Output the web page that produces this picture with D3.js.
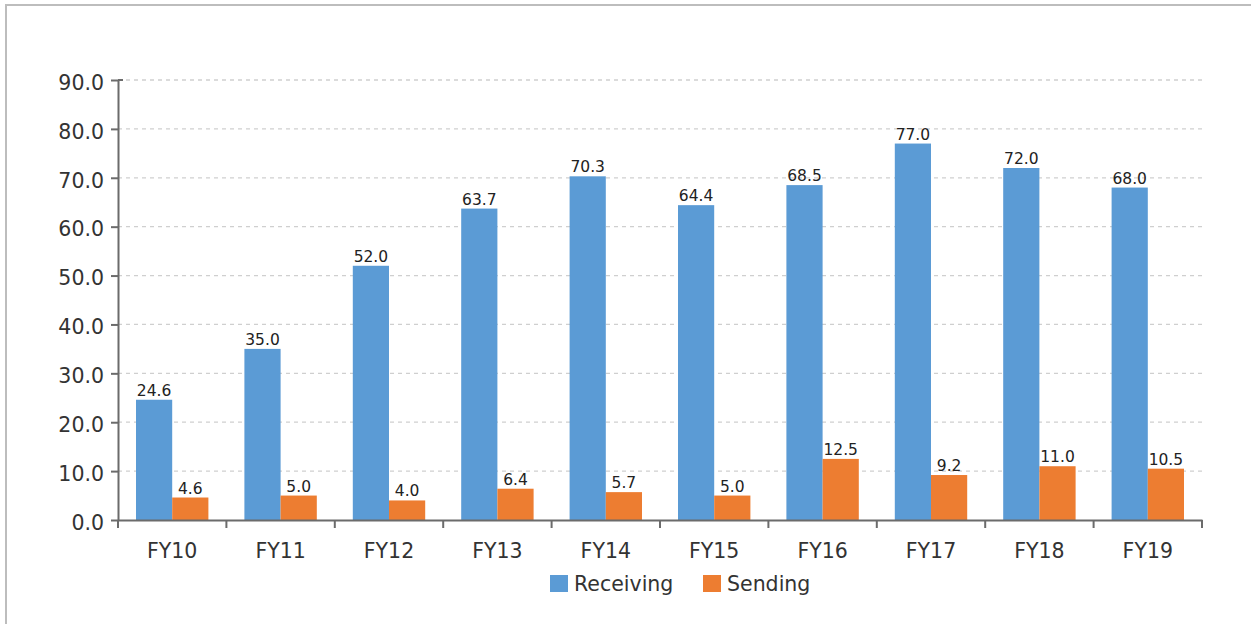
<!DOCTYPE html>
<html><head><meta charset="utf-8">
<script src="https://cdn.jsdelivr.net/npm/d3@7"></script>
<style>body{margin:0;background:#fff;}svg{display:block;}</style>
</head><body>
<svg id="c" width="1251" height="624"></svg>
<script>
const categories = ["FY10","FY11","FY12","FY13","FY14","FY15","FY16","FY17","FY18","FY19"];
const receiving = [24.6,35.0,52.0,63.7,70.3,64.4,68.5,77.0,72.0,68.0];
const sending = [4.6,5.0,4.0,6.4,5.7,5.0,12.5,9.2,11.0,10.5];
const seriesNames = ["Receiving","Sending"];
const seriesColors = ["#5b9bd5","#ed7d31"];
const yTicks = [0,10,20,30,40,50,60,70,80,90];

const FONT = "'DejaVu Sans', Verdana, sans-serif";
const svg = d3.select("#c");
// frame
svg.append("rect").attr("x",6).attr("y",5).attr("width",1260).attr("height",640)
  .attr("fill","none").attr("stroke","#bdbdbd").attr("stroke-width",2);

const m = {l:118, r:1202, t:80, b:520};
const x = d3.scaleBand().domain(categories).range([m.l, m.r]).paddingInner(0).paddingOuter(0);
const x1 = d3.scaleBand().domain(seriesNames).range([18, x.bandwidth()-18]);
const y = d3.scaleLinear().domain([0,90]).range([m.b, m.t]);

// grid
svg.append("g").selectAll("line").data(yTicks.filter(d=>d>0)).join("line")
  .attr("x1",m.l).attr("x2",m.r).attr("y1",d=>y(d)).attr("y2",d=>y(d))
  .attr("stroke","#cfcfcf").attr("stroke-width",1.3).attr("stroke-dasharray","4,4");

// bars
const data = categories.map((c,i)=>({c, vals:[receiving[i], sending[i]]}));
const g = svg.append("g").selectAll("g").data(data).join("g")
  .attr("transform",d=>`translate(${x(d.c)},0)`);
g.selectAll("rect").data(d=>d.vals.map((v,j)=>({v,j}))).join("rect")
  .attr("x",d=>x1(seriesNames[d.j])).attr("width",x1.bandwidth())
  .attr("y",d=>y(d.v)).attr("height",d=>y(0)-y(d.v))
  .attr("fill",d=>seriesColors[d.j]);
g.selectAll("text").data(d=>d.vals.map((v,j)=>({v,j}))).join("text")
  .attr("x",d=>x1(seriesNames[d.j])+x1.bandwidth()/2).attr("y",d=>y(d.v)-4)
  .attr("text-anchor","middle").attr("font-family",FONT)
  .attr("font-size",15.5).attr("fill","#222").text(d=>d.v.toFixed(1));

// y axis
const ya = svg.append("g").attr("transform",`translate(${m.l},0)`)
  .call(d3.axisLeft(y).tickValues(yTicks).tickFormat(d=>d.toFixed(1)).tickSize(7).tickSizeOuter(0).tickPadding(7));
ya.selectAll(".tick text").attr("dy","0.45em");
// x axis
const xa = svg.append("g").attr("transform",`translate(0,${m.b})`)
  .call(d3.axisBottom(x).tickSize(0).tickPadding(23));
xa.selectAll(".tick line").remove();
xa.append("g").selectAll("line").data(d3.range(categories.length+1)).join("line")
  .attr("x1",i=>m.l+i*x.step()).attr("x2",i=>m.l+i*x.step()).attr("y1",0).attr("y2",8)
  .attr("stroke","#6b6b6b").attr("stroke-width",2);
[ya,xa].forEach(a=>{
  a.select(".domain").attr("stroke","#6b6b6b").attr("stroke-width",2);
  a.selectAll(".tick line").attr("stroke","#6b6b6b").attr("stroke-width",2);
  a.selectAll("text").attr("font-family",FONT).attr("font-size",20.5).attr("fill","#333");
});
// top outer tick stub
svg.append("line").attr("x1",m.l).attr("x2",m.l+5).attr("y1",y(90)).attr("y2",y(90)).attr("stroke","#6b6b6b").attr("stroke-width",2);

// legend
const lg = svg.append("g");
const items = [{n:"Receiving",c:seriesColors[0],x:550},{n:"Sending",c:seriesColors[1],x:703}];
items.forEach(it=>{
  lg.append("rect").attr("x",it.x).attr("y",575).attr("width",18).attr("height",17).attr("fill",it.c);
  lg.append("text").attr("x",it.x+24).attr("y",591).attr("font-family",FONT)
    .attr("font-size",20.5).attr("fill","#333").text(it.n);
});
</script>
</body></html>
